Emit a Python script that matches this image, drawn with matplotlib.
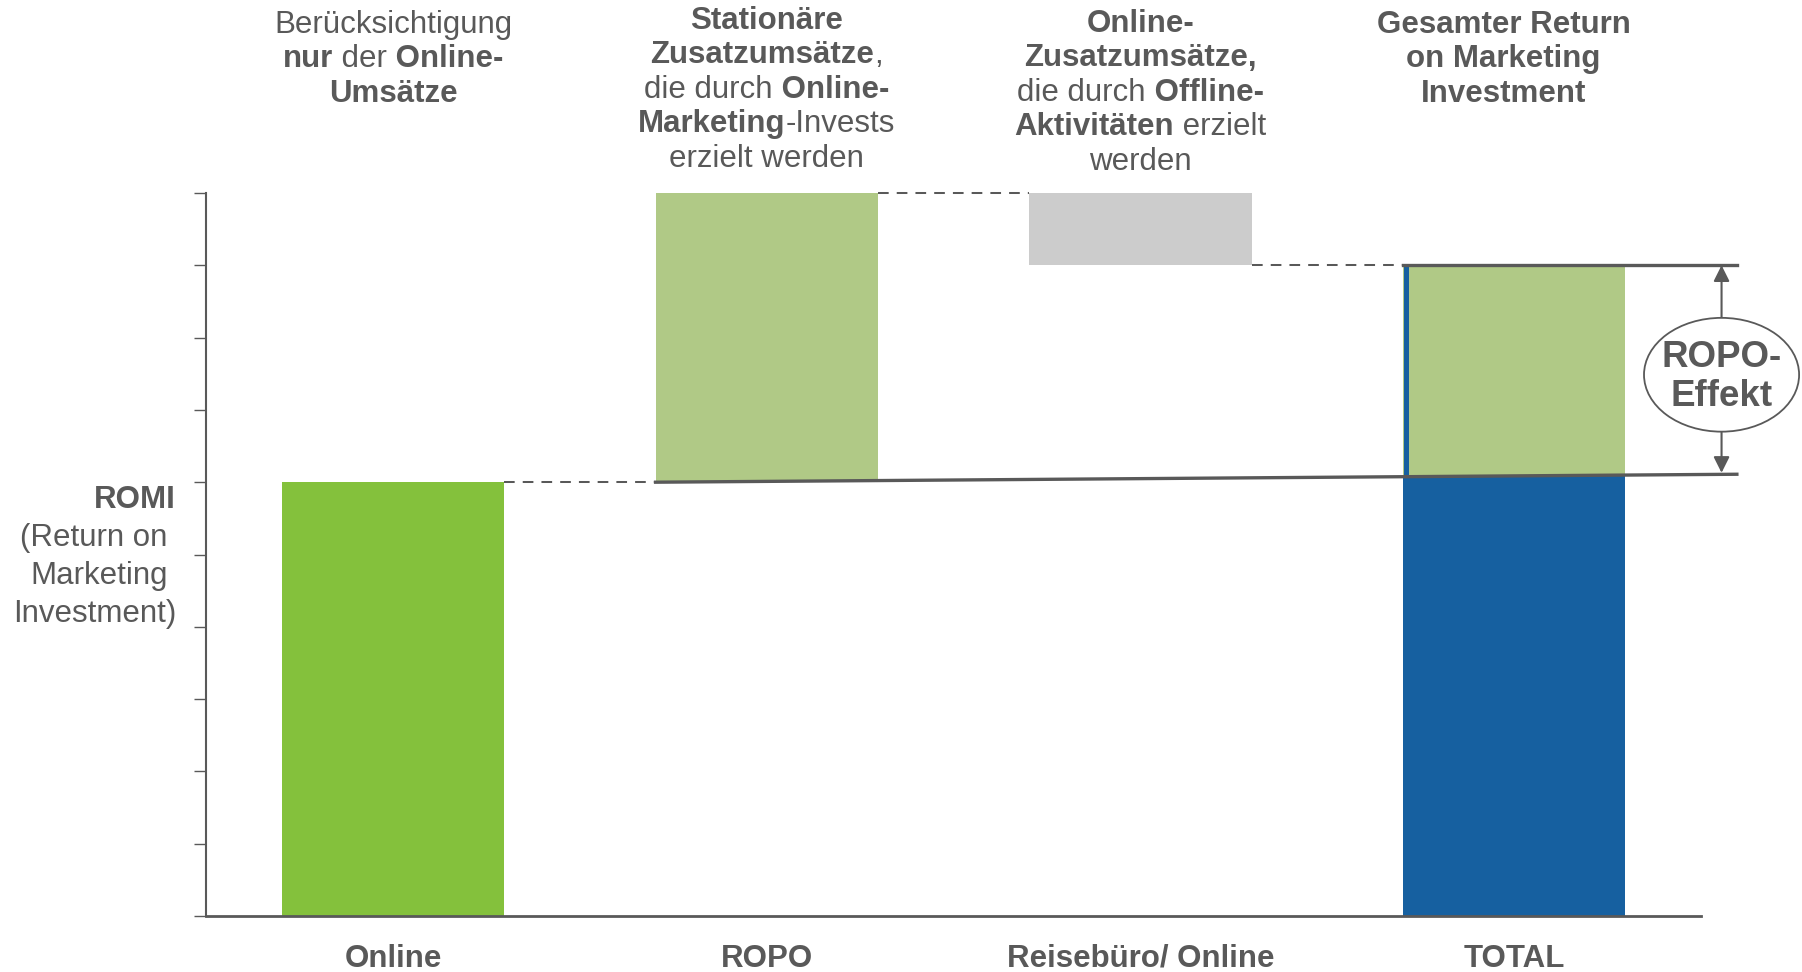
import numpy as np
import matplotlib.pyplot as plt
from matplotlib.patches import Ellipse
from matplotlib.transforms import IdentityTransform

plt.rcParams['font.family'] = ['Liberation Sans', 'DejaVu Sans']

# Data
categories = ['Online', 'ROPO', 'Reisebüro/ Online', 'TOTAL']
steps = [6.0, 4.0, -1.0]          # Online, ROPO, Reisebüro/Online
total_online = 6.09               # blue part of TOTAL
romi_level = [6.0, 6.11]          # slanted ROMI reference line (start, end)
y_ticks = np.arange(0, 11, 1)

# header texts: lines of (text, bold) segments
headers = [
    [[('Berücksichtigung', False)],
     [('nur', True), (' der', False), (' Online-', True)],
     [('Umsätze', True)]],
    [[('Stationäre', True)],
     [('Zusatzumsätze', True), (',', False)],
     [('die durch', False), (' Online-', True)],
     [('Marketing', True), ('-Invests', False)],
     [('erzielt werden', False)]],
    [[('Online-', True)],
     [('Zusatzumsätze,', True)],
     [('die durch', False), (' Offline-', True)],
     [('Aktivitäten', True), (' erzielt', False)],
     [('werden', False)]],
    [[('Gesamter Return', True)],
     [('on Marketing', True)],
     [('Investment', True)]],
]
romi_lines = [('ROMI', True), ('(Return on ', False), ('Marketing ', False), ('Investment)', False)]
effekt_lines = ['ROPO-', 'Effekt']

# Colours
c_online = '#84c13c'
c_ropo = '#b0c986'
c_grey = '#cccccc'
c_blue = '#1660a0'
c_text = '#595959'

W, H = 1802, 972
fig = plt.figure(figsize=(W / 100, H / 100), dpi=100)
ax = fig.add_axes([206.2 / W, 1 - 916 / H, (1701 - 206.2) / W, (916 - 193) / H])
ax.set_xlim(-0.5, 3.5)
ax.set_ylim(0, 10)

bw = 0.595
x = np.arange(len(categories))
end = np.cumsum(steps)
start = np.concatenate([[0], end[:-1]])
total = end[-1]

ax.bar(x[:3], np.abs(steps), bottom=np.minimum(start, end), width=bw,
       color=[c_online, c_ropo, c_grey], zorder=2)
ax.bar(x[3], total_online, width=bw, color=c_blue, zorder=2)
ax.bar(x[3], total - total_online, bottom=total_online, width=bw, color=c_ropo, zorder=2)
ax.plot([x[3] - bw / 2 + 0.007] * 2, [total_online, total], color=c_blue, lw=3.6,
        solid_capstyle='butt', zorder=3)

# dashed connectors
for i in range(3):
    ax.plot([x[i] + bw / 2, x[i + 1] - bw / 2], [end[i], end[i]], color=c_text,
            lw=1.45, ls=(0, (5.3, 4.0)), clip_on=False, zorder=3)

# ROPO effect reference lines
x_right = 3.596
ax.plot([x[1] - bw / 2, x_right], romi_level, color=c_text, lw=2.4, clip_on=False, zorder=4)
ax.plot([x[3] - bw / 2, x_right], [total, total], color=c_text, lw=2.4, clip_on=False, zorder=4)

xa = 3.555
ax.annotate('', xy=(xa, total), xytext=(xa, total_online + 0.04),
            arrowprops=dict(arrowstyle='<|-|>', color=c_text, lw=1.5,
                            mutation_scale=24, shrinkA=0, shrinkB=0),
            annotation_clip=False)
ax.add_patch(Ellipse((xa, 7.486), 0.415, 1.574, fc='white', ec=c_text, lw=1.3,
                     clip_on=False, zorder=5))


def ptext(xp, yp, s, **kw):
    # x, y in image pixels measured from top-left
    return fig.text(xp, H - yp, s, transform=IdentityTransform(), color=c_text, **kw)


for s, yb in zip(effekt_lines, [366.5, 405.7]):
    ptext(1721.6, yb, s, fontsize=26.5, fontweight='bold', ha='center', va='baseline', zorder=6)

# axes styling
for side in ['top', 'right']:
    ax.spines[side].set_visible(False)
ax.spines['left'].set_color(c_text)
ax.spines['left'].set_linewidth(1.5)
ax.spines['bottom'].set_color(c_text)
ax.spines['bottom'].set_linewidth(2.0)
ax.set_yticks(y_ticks)
ax.set_yticklabels([])
ax.tick_params(axis='y', length=8.3, width=1.0, color=c_text, direction='out')
ax.set_xticks(x, categories, fontsize=22.5, fontweight='bold', color=c_text)
ax.tick_params(axis='x', length=0, pad=20)

# rich header text
renderer = fig.canvas.get_renderer()


def rich_line(xc, yb, segs, size=22.5):
    ts = [ptext(0, yb, s, fontsize=size, fontweight='bold' if b else 'normal',
                ha='left', va='baseline') for s, b in segs]
    ws = [t.get_window_extent(renderer).width for t in ts]
    x0 = xc - sum(ws) / 2
    for t, w in zip(ts, ws):
        t.set_x(x0)
        x0 += w


first_base = [33, 29, 32, 33]
x_shift = [0, 0, 0, -0.028]
for i, lines in enumerate(headers):
    xc = ax.transData.transform((x[i] + x_shift[i], 0))[0]
    for j, segs in enumerate(lines):
        rich_line(xc, first_base[i] + j * 34.4, segs)

for j, (s, b) in enumerate(romi_lines):
    ptext(176 - 8.5 * s.endswith(' '), 508 + j * 37.9, s.rstrip(), fontsize=22.5,
          fontweight='bold' if b else 'normal', ha='right', va='baseline')

fig.savefig('out.png', dpi=100)
